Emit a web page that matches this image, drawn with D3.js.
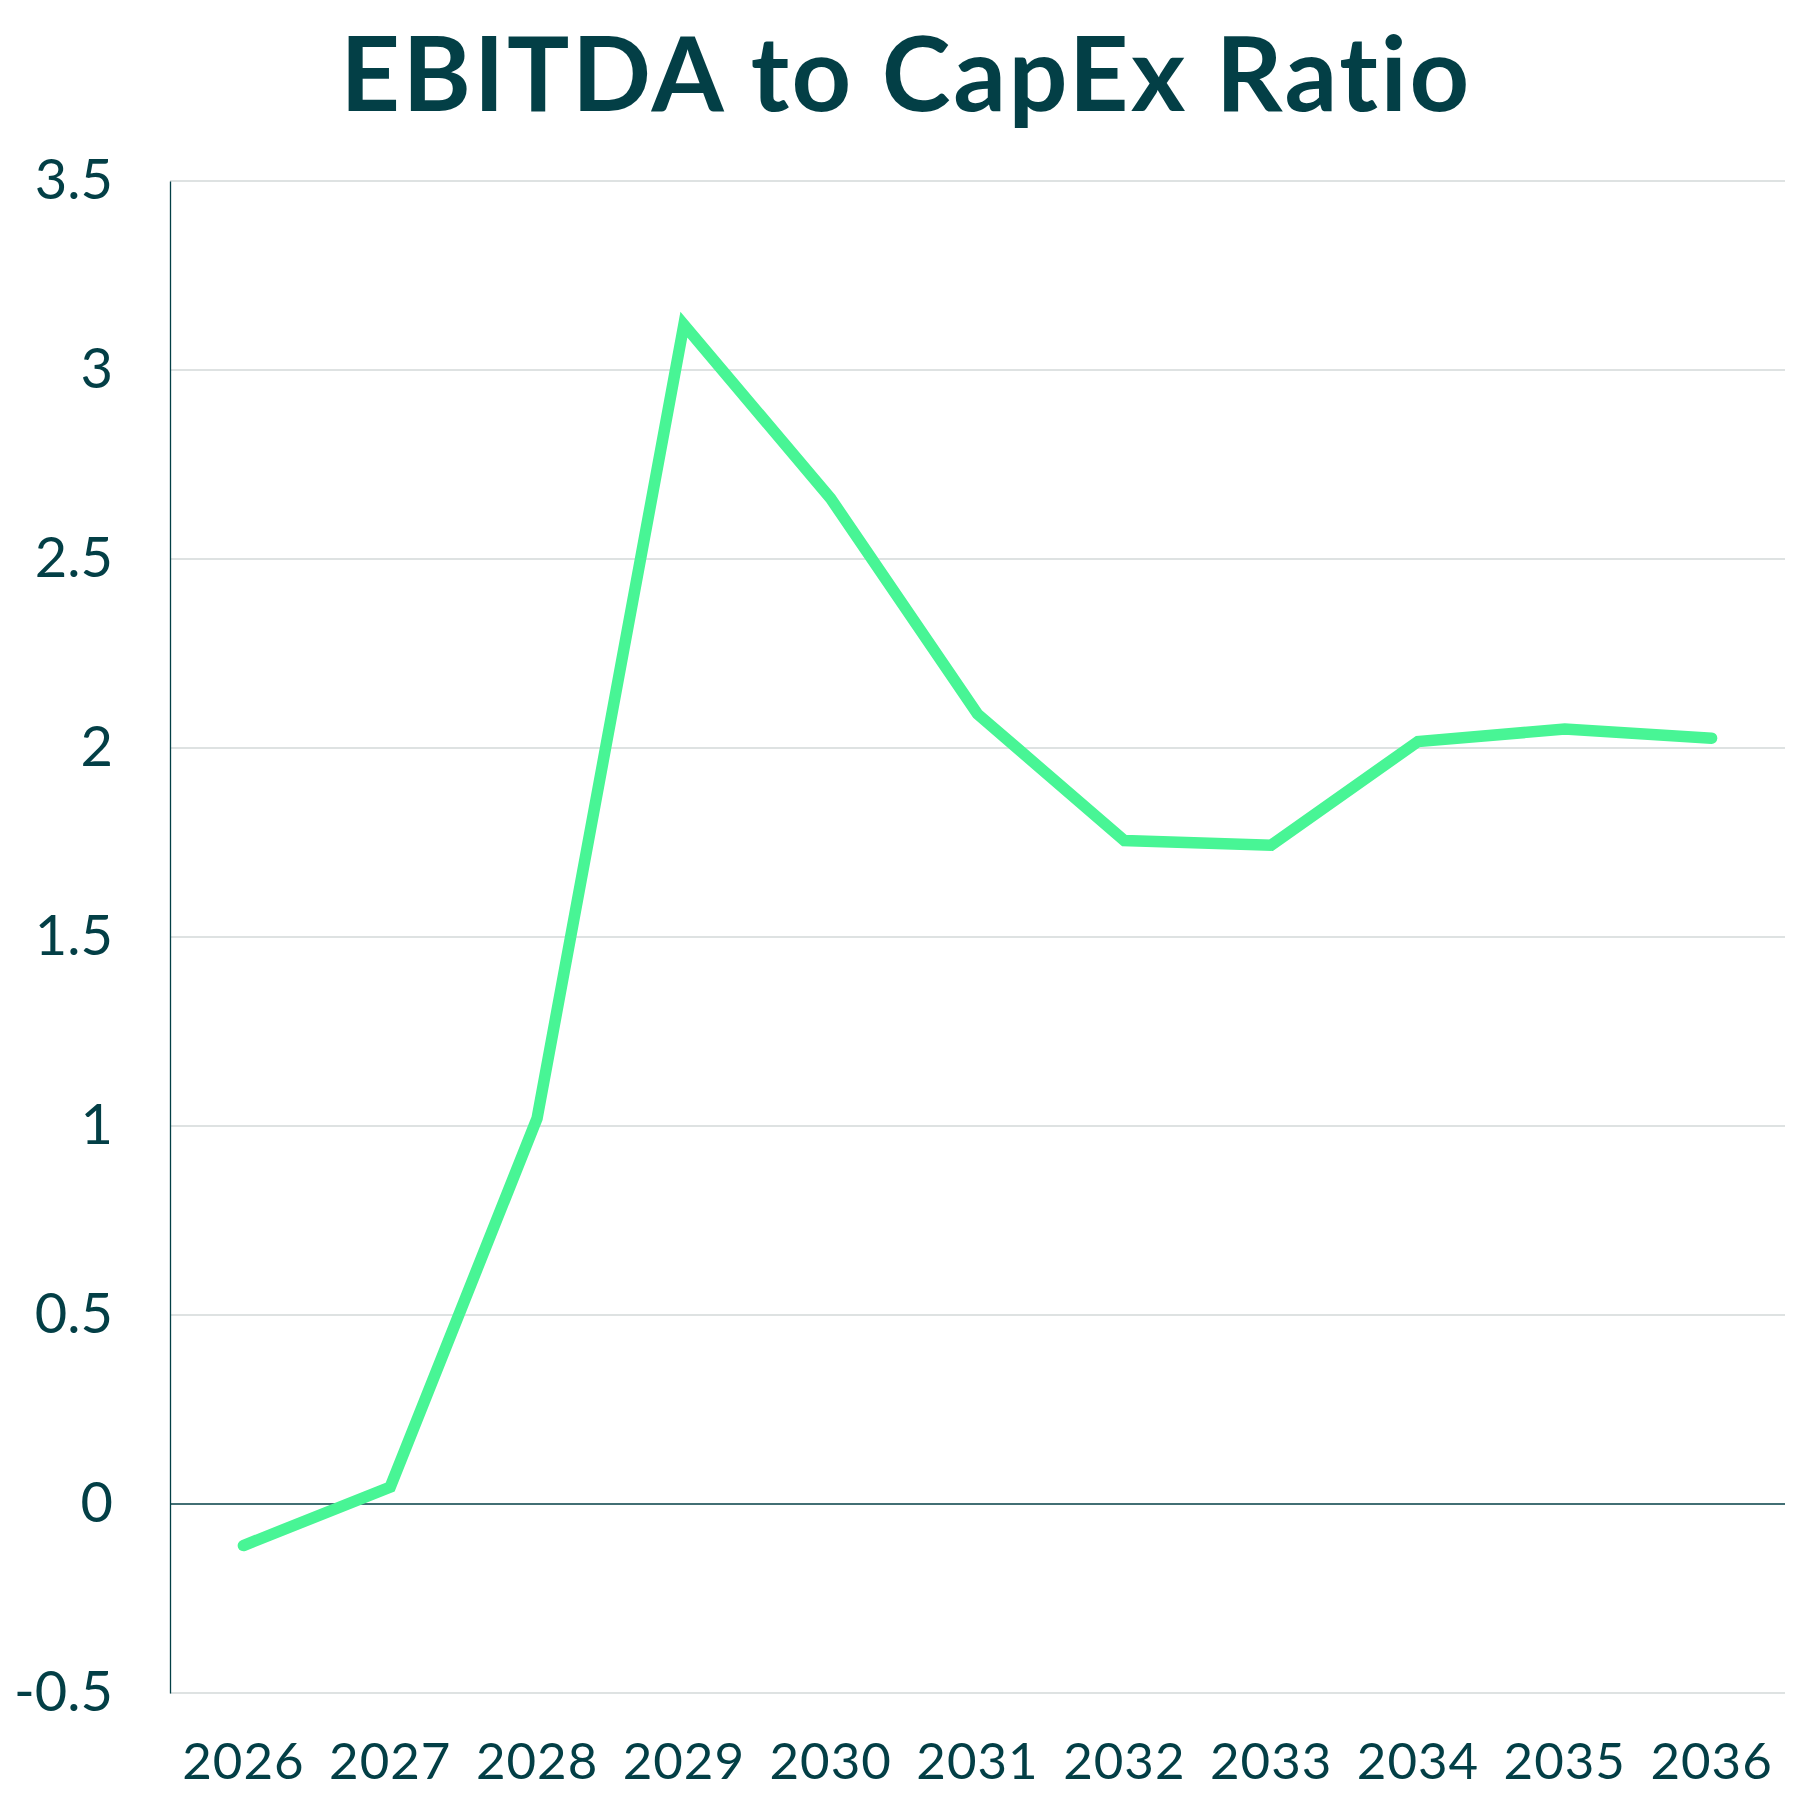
<!DOCTYPE html>
<html>
<head>
<meta charset="utf-8">
<script src="https://cdn.jsdelivr.net/npm/d3@7"></script>
<style>
    body { margin: 0; background: #ffffff; }
    svg { display: block; }
    text { font-variant-ligatures: none; }
</style>
</head>
<body>
<div id="chart"></div>
<script>
const years = ["2026", "2027", "2028", "2029", "2030", "2031", "2032", "2033", "2034", "2035", "2036"];
const ratios = [-0.11, 0.045, 1.02, 3.12, 2.66, 2.09, 1.755, 1.743, 2.017, 2.05, 2.026];
const yTicks = [-0.5, 0, 0.5, 1, 1.5, 2, 2.5, 3, 3.5];

const largeur = 1800,
    hauteur = 1800;
const dark = "#033f46";

const svgSpace = d3.select("#chart")
    .append("svg")
    .attr("width", largeur)
    .attr("height", hauteur);

const x = d3.scaleBand()
    .domain(years)
    .range([170, 1785]);

const y = d3.scaleLinear()
    .domain([-0.5, 3.5])
    .range([1693, 181]);

// gridlines
svgSpace.append("g")
    .selectAll("line")
    .data(yTicks)
    .enter()
    .append("line")
    .attr("x1", 170)
    .attr("x2", 1785)
    .attr("y1", (d) => y(d))
    .attr("y2", (d) => y(d))
    .attr("stroke", (d) => d === 0 ? dark : "#d3d8d8")
    .attr("stroke-width", (d) => d === 0 ? 1.5 : 1.3);

// left axis
const yAxis = svgSpace.append("g")
    .attr("transform", "translate(170,0)")
    .call(d3.axisLeft(y).tickValues(yTicks).tickSize(0).tickPadding(57).tickFormat((d) => String(d)));
yAxis.select(".domain").attr("stroke", dark).attr("stroke-width", 1.3);
yAxis.selectAll("text")
    .attr("fill", dark)
    .style("font-family", "Lato, sans-serif")
    .style("font-size", "56px");

// bottom labels
const xAxis = svgSpace.append("g")
    .attr("transform", "translate(0,1693)")
    .call(d3.axisBottom(x).tickSize(0).tickPadding(50));
xAxis.select(".domain").remove();
xAxis.selectAll("text")
    .attr("fill", dark)
    .style("font-family", "Lato, sans-serif")
    .style("font-size", "51px")
    .style("letter-spacing", "1px");

// line
const line = d3.line()
    .x((d, i) => x(years[i]) + x.bandwidth() / 2)
    .y((d) => y(d));

svgSpace.append("path")
    .datum(ratios)
    .attr("d", line)
    .attr("fill", "none")
    .attr("stroke", "#48f595")
    .attr("stroke-width", 11.5)
    .attr("stroke-linecap", "round")
    .attr("stroke-linejoin", "miter");

// title
svgSpace.append("text")
    .text("EBITDA to CapEx Ratio")
    .attr("x", 906)
    .attr("y", 111)
    .attr("fill", dark)
    .style("font-family", "Lato, sans-serif")
    .style("font-weight", "bold")
    .style("font-size", "104px")
    .style("letter-spacing", "2.6px")
    .style("text-anchor", "middle");
</script>
</body>
</html>
